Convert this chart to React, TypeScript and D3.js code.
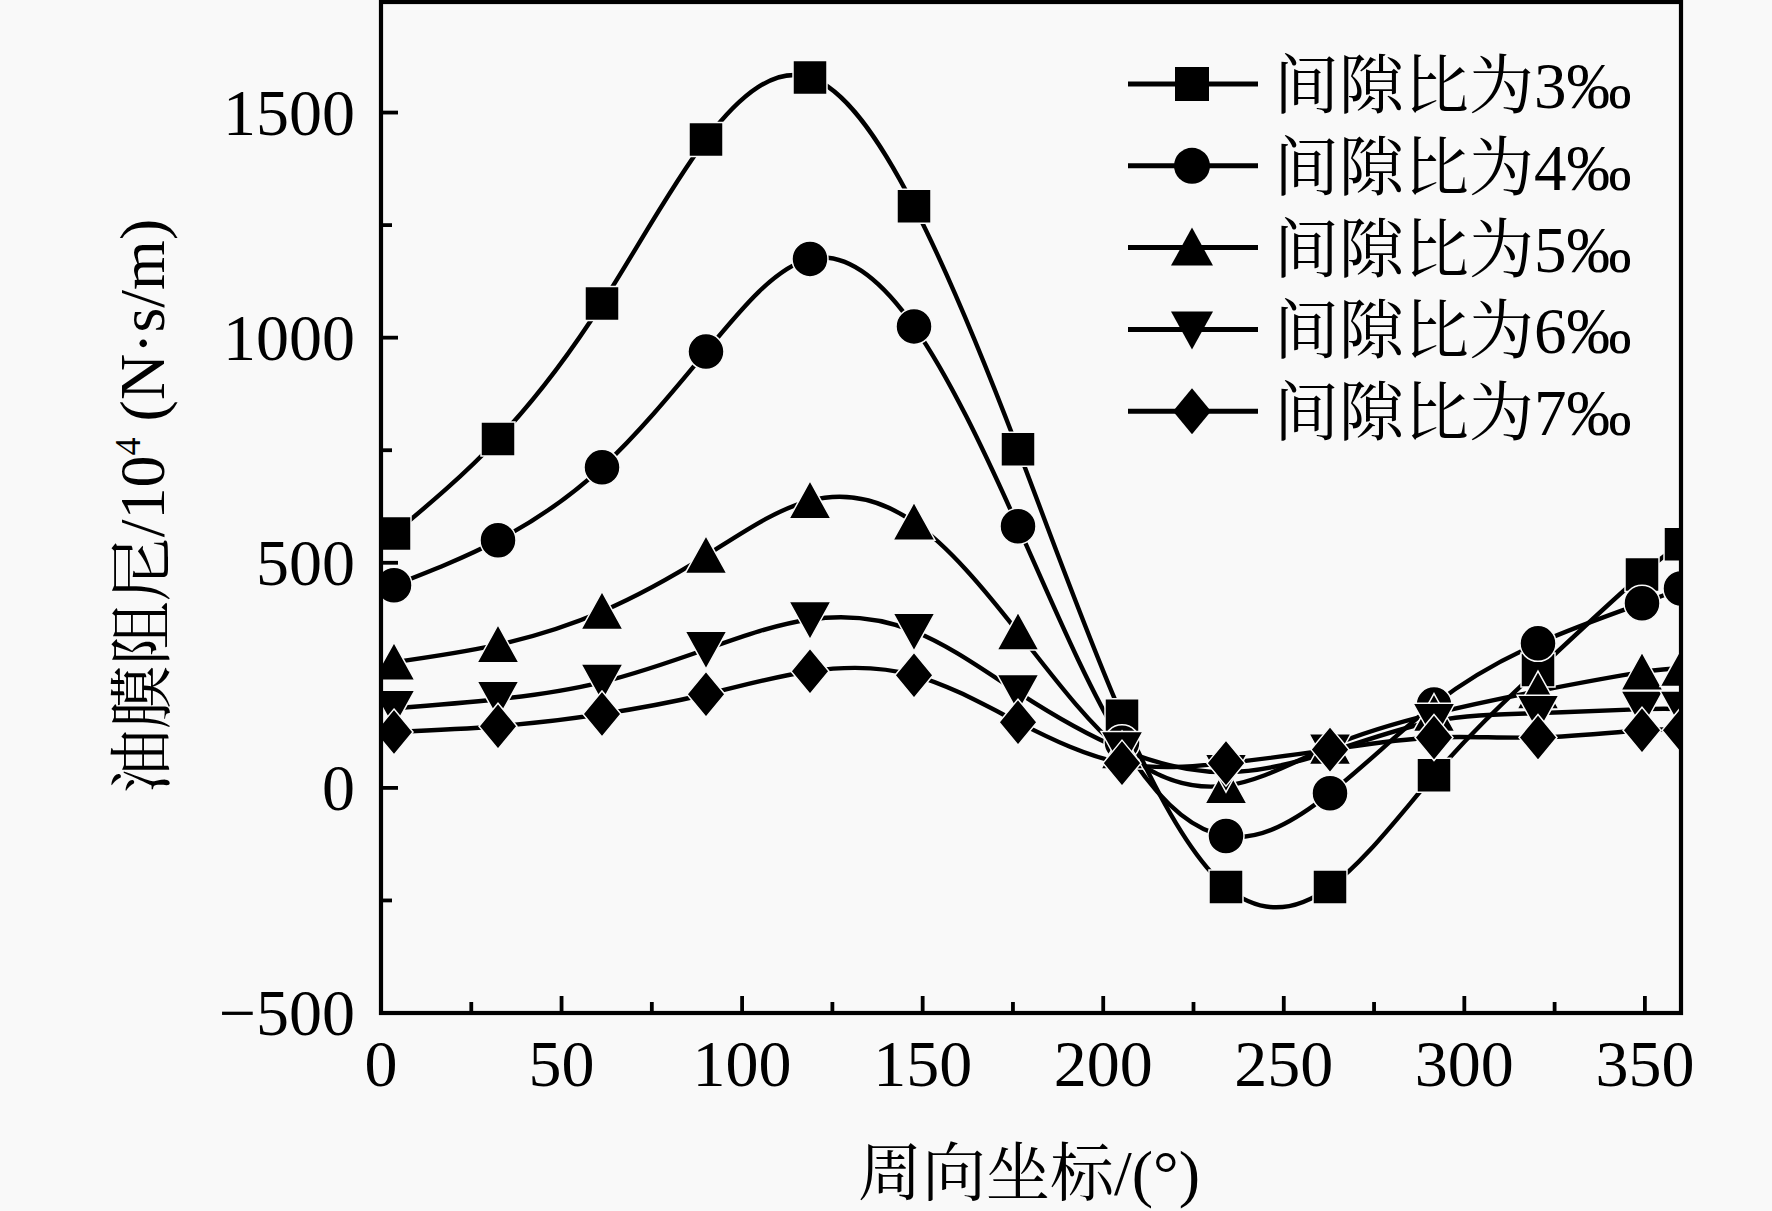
import React from 'react';
import * as d3 from 'd3';

// circumferential positions (deg) shared by every series
const angles = [3.6, 32.4, 61.2, 90, 118.8, 147.6, 176.4, 205.2, 234, 262.8, 291.6, 320.4, 349.2, 360];

// oil film damping / 10^4 (N·s/m)
const ratio3 = [565, 775, 1076, 1440, 1578, 1292, 752, 160, -220, -220, 28, 262, 474, 541];
const ratio4 = [450, 550, 712, 969, 1175, 1025, 581, 100, -107, -12, 185, 321, 410, 443];
const ratio5 = [279, 318, 392, 516, 638, 590, 346, 82, 5, 92, 165, 215, 257, 265];
const ratio6 = [177, 197, 235, 308, 374, 348, 212, 85, 35, 80, 148, 166, 175, 175];
const ratio7 = [124, 137, 164, 208, 259, 250, 146, 55, 55, 85, 112, 112, 128, 128];

const seriesNames = ['间隙比为3‰', '间隙比为4‰', '间隙比为5‰', '间隙比为6‰', '间隙比为7‰'];
const seriesShapes = ['square', 'circle', 'triangle', 'invTriangle', 'diamond'];
const seriesValues = [ratio3, ratio4, ratio5, ratio6, ratio7];

const xTicks = [0, 50, 100, 150, 200, 250, 300, 350];
const xMinorTicks = [25, 75, 125, 175, 225, 275, 325];
const yTicks = [-500, 0, 500, 1000, 1500];
const yMinorTicks = [-250, 250, 750, 1250];

const W = 1772;
const H = 1211;
const left = 381;
const right = 1681;
const top = 2;
const bottom = 1013;

const serif = "'Liberation Serif', 'Times New Roman', 'Noto Serif CJK SC', 'Noto Sans CJK SC', serif";

function markerPath(shape: string): string {
  switch (shape) {
    case 'square':
      return 'M-17,-17H17V17H-17Z';
    case 'circle':
      return 'M18,0A18,18 0 1,1 -18,0A18,18 0 1,1 18,0Z';
    case 'triangle':
      return 'M0,-20L21,18H-21Z';
    case 'invTriangle':
      return 'M0,20L21,-18H-21Z';
    default:
      return 'M0,-23L19,0L0,23L-19,0Z';
  }
}

export default function App() {
  const x = d3.scaleLinear().domain([0, 360]).range([left, right]);
  const y = d3.scaleLinear().domain([-500, 1750]).range([bottom, 0]);

  const line = d3
    .line<number>()
    .x((_, i) => x(angles[i]))
    .y((d) => y(d))
    .curve(d3.curveNatural);

  const fmt = d3.format('d');

  return (
    <svg
      width={W}
      height={H}
      viewBox={`0 0 ${W} ${H}`}
      style={{ position: 'absolute', left: 0, top: 0, background: '#f9f9f9' }}
      fontFamily={serif}
    >
      <rect x={0} y={0} width={W} height={H} fill="#f9f9f9" />
      <defs>
        <clipPath id="plot">
          <rect x={left} y={top} width={right - left} height={bottom - top} />
        </clipPath>
      </defs>

      <g clipPath="url(#plot)">
        {seriesValues.map((vals, s) => (
          <path key={'l' + s} d={line(vals) || ''} fill="none" stroke="#000" strokeWidth={4.4} />
        ))}
        {seriesValues.map((vals, s) =>
          vals.map((v, i) => (
            <path
              key={'m' + s + '-' + i}
              d={markerPath(seriesShapes[s])}
              transform={`translate(${x(angles[i])},${y(v)})`}
              fill="#000"
              stroke="#f9f9f9"
              strokeWidth={1.5}
            />
          ))
        )}
      </g>

      {/* frame */}
      <rect
        x={left}
        y={top}
        width={right - left}
        height={bottom - top}
        fill="none"
        stroke="#000"
        strokeWidth={4.2}
      />

      {/* x ticks */}
      {xTicks.map((t) => (
        <g key={'xt' + t}>
          <line x1={x(t)} x2={x(t)} y1={bottom} y2={bottom - 17} stroke="#000" strokeWidth={3.8} />
          <text x={x(t)} y={1086} textAnchor="middle" fontSize={66}>
            {fmt(t)}
          </text>
        </g>
      ))}
      {xMinorTicks.map((t) => (
        <line key={'xm' + t} x1={x(t)} x2={x(t)} y1={bottom} y2={bottom - 11} stroke="#000" strokeWidth={3.8} />
      ))}

      {/* y ticks */}
      {yTicks.map((t) => (
        <g key={'yt' + t}>
          <line x1={left} x2={left + 17} y1={y(t)} y2={y(t)} stroke="#000" strokeWidth={3.8} />
          <text x={355} y={y(t) + 22} textAnchor="end" fontSize={66}>
            {fmt(t)}
          </text>
        </g>
      ))}
      {yMinorTicks.map((t) => (
        <line key={'ym' + t} x1={left} x2={left + 11} y1={y(t)} y2={y(t)} stroke="#000" strokeWidth={3.8} />
      ))}

      {/* axis titles */}
      <text x={1029} y={1195} textAnchor="middle" fontSize={64}>
        周向坐标/(°)
      </text>
      <text transform="translate(164,506) rotate(-90)" textAnchor="middle" fontSize={64}>
        油膜阻尼/10
        <tspan fontSize={36} dy={-24}>
          4
        </tspan>
        <tspan dy={24}> (N·s/m)</tspan>
      </text>

      {/* legend */}
      {seriesNames.map((name, s) => {
        const ry = 84 + s * 81.8;
        return (
          <g key={'lg' + s}>
            <line x1={1128} x2={1258} y1={ry} y2={ry} stroke="#000" strokeWidth={5} />
            <path d={markerPath(seriesShapes[s])} transform={`translate(1192,${ry})`} fill="#000" />
            <text x={1274} y={ry + 24} fontSize={65}>
              {name}
            </text>
          </g>
        );
      })}
    </svg>
  );
}
